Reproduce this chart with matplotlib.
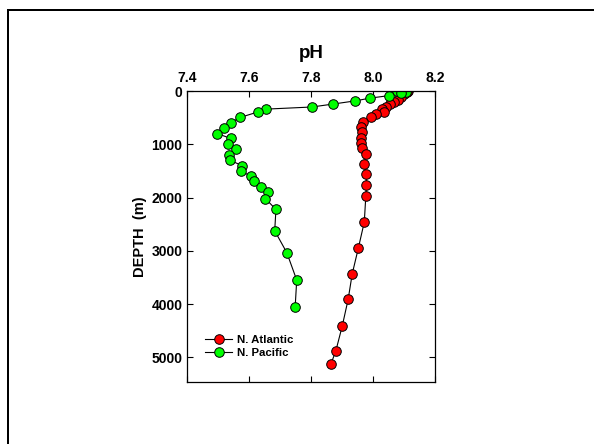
import matplotlib
matplotlib.use("Agg")
import matplotlib.pyplot as plt
from matplotlib.patches import Rectangle

plt.rcParams['font.family'] = ['Liberation Sans', 'DejaVu Sans']
plt.rcParams['font.weight'] = 'bold'

atl_depth = [0, 20, 60, 110, 160, 210, 250, 300, 340, 390, 435, 490, 575, 675, 775, 875,
             975, 1075, 1180, 1375, 1565, 1765, 1965, 2460, 2945, 3435, 3910, 4410, 4885, 5130]
atl_ph = [8.112, 8.108, 8.10, 8.09, 8.08, 8.068, 8.054, 8.041, 8.029, 8.035, 8.009, 7.993,
          7.968, 7.960, 7.965, 7.959, 7.960, 7.964, 7.977, 7.971, 7.977, 7.978, 7.976,
          7.971, 7.952, 7.932, 7.919, 7.900, 7.879, 7.863]

pac_depth = [0, 15, 45, 85, 135, 185, 245, 300, 340, 395, 495, 595, 690, 800, 890, 1000,
             1090, 1195, 1300, 1400, 1505, 1595, 1695, 1805, 1905, 2020, 2225, 2625, 3035,
             3550, 4055]
pac_ph = [8.075, 8.105, 8.09, 8.052, 7.988, 7.942, 7.870, 7.802, 7.654, 7.627, 7.571,
          7.540, 7.517, 7.497, 7.540, 7.531, 7.556, 7.535, 7.538, 7.576, 7.572, 7.605,
          7.615, 7.637, 7.659, 7.652, 7.686, 7.682, 7.721, 7.753, 7.748]

x_ticks = [7.4, 7.6, 7.8, 8.0, 8.2]
x_ticklabels = ['7.4', '7.6', '7.8', '8.0', '8.2']
y_ticks = [0, 1000, 2000, 3000, 4000, 5000]

fig = plt.figure(figsize=(5.94, 4.44), dpi=100)
ax = fig.add_axes([0.3153, 0.139, 0.4175, 0.656])

mk = dict(marker='o', markersize=6.9, markeredgecolor='black', markeredgewidth=0.7,
          color='black', linewidth=0.8)
ax.plot(atl_ph, atl_depth, markerfacecolor='#ff0000', label='N. Atlantic', **mk)
ax.plot(pac_ph, pac_depth, markerfacecolor='#00ff00', label='N. Pacific', **mk)

ax.set_xlim(7.4, 8.2)
ax.set_ylim(5470, 0)
ax.set_xticks(x_ticks)
ax.set_xticklabels(x_ticklabels)
ax.set_yticks(y_ticks)
ax.xaxis.set_ticks_position('both')
ax.yaxis.set_ticks_position('both')
ax.xaxis.set_label_position('top')
ax.tick_params(axis='both', direction='in', length=4.3, width=0.8, labelsize=10,
               labeltop=True, labelbottom=False)
ax.tick_params(axis='x', pad=4)
ax.tick_params(axis='y', pad=3.5)
for t in ax.get_xticklabels() + ax.get_yticklabels():
    t.set_fontweight('bold')
ax.set_xlabel('pH', fontsize=13.5, fontweight='bold', labelpad=10)
ax.set_ylabel('DEPTH  (m)', fontsize=10.5, fontweight='bold', labelpad=3)
for s in ax.spines.values():
    s.set_linewidth(0.9)

leg = ax.legend(loc='lower left', bbox_to_anchor=(0.053, 0.069), frameon=False,
                fontsize=8.2, handlelength=2.4, handletextpad=0.45, labelspacing=0.24,
                borderaxespad=0)
for t in leg.get_texts():
    t.set_fontweight('bold')

W, H = 594.0, 444.0
fig.add_artist(Rectangle((6.7 / W, 0.0), 2.0 / W, 1 - 8.7 / H,
                         transform=fig.transFigure, facecolor='black',
                         edgecolor='none', linewidth=0))
fig.add_artist(Rectangle((6.7 / W, 1 - 10.7 / H), 1 - 6.7 / W, 2.0 / H,
                         transform=fig.transFigure, facecolor='black',
                         edgecolor='none', linewidth=0))

fig.savefig('out.png', dpi=100)
